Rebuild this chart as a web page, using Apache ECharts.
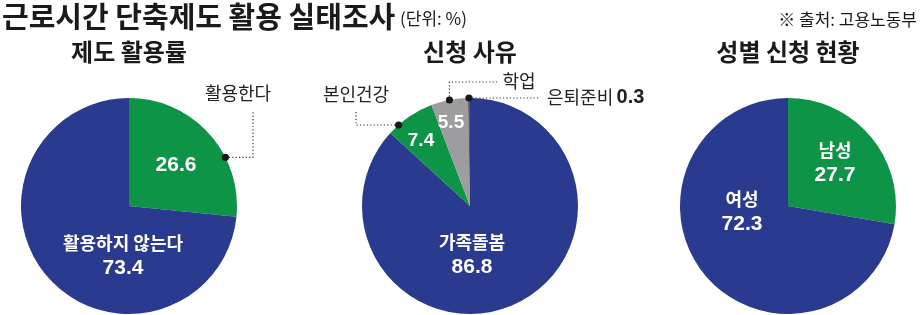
<!DOCTYPE html>
<html><head><meta charset="utf-8">
<script src="https://cdn.jsdelivr.net/npm/echarts@6/dist/echarts.min.js"></script>
<style>html,body{margin:0;padding:0;background:#fff}#c{width:921px;height:315px}</style>
</head><body><div id="c"></div>
<script>
// ---- data ----
const titleText = '근로시간 단축제도 활용 실태조사';
const unitText = '(단위: %)';
const sourceText = '※ 출처: 고용노동부';
const pieTitles = ['제도 활용률', '신청 사유', '성별 신청 현황'];

const usageNames = ['활용한다', '활용하지 않는다'];
const usageValues = [26.6, 73.4];
const reasonNames = ['가족돌봄', '본인건강', '학업', '은퇴준비'];
const reasonValues = [86.8, 7.4, 5.5, 0.3];
const genderNames = ['남성', '여성'];
const genderValues = [27.7, 72.3];

// ---- style / layout ----
const BLUE = '#293a8f', GREEN = '#0e9447', GRAY = '#9d9d9f', DARK = '#5a5a5c';
const KR = "'Noto Sans CJK KR', sans-serif";
const NUM = "'Liberation Sans', Arial, 'Noto Sans CJK KR', sans-serif";
const R = 108, CY = 206;

const pies = [
  { cx: 129, names: usageNames, values: usageValues, colors: [GREEN, BLUE],
    inner: [{x:176, y:165, k:'v'}, {x:123, y:256, k:'nv'}],
    outer: [{x:238, y:93, align:'center'}, null],
    leaders: [{idx:0, frac:0.66, route: d => [[253, d[1]], [253, 110]]}] },
  { cx: 470, names: reasonNames, values: reasonValues, colors: [BLUE, GREEN, GRAY, DARK],
    inner: [{x:472, y:255, k:'nv'}, {x:421, y:141, k:'s'}, {x:451, y:123, k:'s'}, null],
    outer: [null, {x:356, y:94, align:'center'}, {x:519, y:81, align:'center'}, {x:547, y:97, align:'left', withValue:true}],
    leaders: [
      {idx:1, frac:0.23, route: d => [[356, d[1]], [356, 110]]},
      {idx:2, frac:0.5, route: d => [[d[0], 82], [497, 82]]},
      {idx:3, frac:0.5, route: d => [[540, d[1]]]}
    ] },
  { cx: 788, names: genderNames, values: genderValues, colors: [GREEN, BLUE],
    inner: [{x:835, y:163, k:'nv'}, {x:742, y:212, k:'nv'}],
    outer: [null, null], leaders: [] }
];

const innerRich = {
  n: {fontSize: 18, fontWeight: 'bold', color: '#fff', fontFamily: KR, lineHeight: 24},
  v: {fontSize: 21, fontWeight: 'bold', color: '#fff', fontFamily: NUM, lineHeight: 26},
  s: {fontSize: 19, fontWeight: 'bold', color: '#fff', fontFamily: NUM, lineHeight: 22}
};
const outerRich = {
  n: {fontSize: 18, color: '#222', fontFamily: KR},
  b: {fontSize: 20, fontWeight: 'bold', color: '#222', fontFamily: NUM}
};

const series = [];
const graphic = [];

function edgePoint(p, idx, frac) {
  const total = p.values.reduce((a, b) => a + b, 0);
  let start = 0;
  for (let i = 0; i < idx; i++) start += p.values[i];
  const ang = (start + frac * p.values[idx]) / total * 2 * Math.PI;
  return [p.cx + R * Math.sin(ang), CY - R * Math.cos(ang)];
}

pies.forEach((p, pi) => {
  series.push({
    type: 'pie', center: [p.cx, CY], radius: [0, R], startAngle: 90, clockwise: true,
    avoidLabelOverlap: false, silent: true, animation: false,
    itemStyle: {borderWidth: 0},
    emphasis: {disabled: true},
    labelLine: {show: false},
    data: p.names.map((n, i) => {
      const c = p.inner[i];
      const v = p.values[i].toFixed(1);
      let fmt = '';
      if (c) fmt = c.k === 'v' ? '{v|' + v + '}' : c.k === 's' ? '{s|' + v + '}' : '{n|' + n + '}\n{v|' + v + '}';
      return { name: n, value: p.values[i], itemStyle: {color: p.colors[i]},
        label: { show: !!c, position: 'inside', formatter: fmt, rich: innerRich, align: 'center' } };
    }),
    labelLayout: prm => { const c = p.inner[prm.dataIndex]; return c ? {x: c.x, y: c.y, align: 'center', verticalAlign: 'middle'} : {}; }
  });
  if (p.outer.some(o => o)) {
    series.push({
      type: 'pie', center: [p.cx, CY], radius: [0, R], startAngle: 90, clockwise: true,
      avoidLabelOverlap: false, silent: true, animation: false, z: 3,
      itemStyle: {color: 'rgba(0,0,0,0)', borderWidth: 0},
      emphasis: {disabled: true},
      labelLine: {show: false},
      data: p.names.map((n, i) => {
        const o = p.outer[i];
        const fmt = o ? (o.withValue ? '{n|' + n + '} {b|' + p.values[i].toFixed(1) + '}' : '{n|' + n + '}') : '';
        return { name: n, value: p.values[i],
          label: { show: !!o, position: 'outside', formatter: fmt, rich: outerRich, align: o ? o.align : 'center' } };
      }),
      labelLayout: prm => { const o = p.outer[prm.dataIndex]; return o ? {x: o.x, y: o.y, align: o.align, verticalAlign: 'middle'} : {}; }
    });
  }
  p.leaders.forEach(l => {
    const d = edgePoint(p, l.idx, l.frac);
    graphic.push({ type: 'polyline', z: 10, silent: true,
      shape: {points: [d].concat(l.route(d))},
      style: {stroke: '#333', lineWidth: 1.2, lineDash: [1.2, 2.2], fill: null} });
    graphic.push({ type: 'circle', z: 11, silent: true, shape: {cx: d[0], cy: d[1], r: 3.6}, style: {fill: '#1a1a1a'} });
  });
  graphic.push({ type: 'text', x: p.cx, y: 52, silent: true,
    style: {text: pieTitles[pi], fill: '#1a1a1a', font: 'bold 24px ' + KR, align: 'center', verticalAlign: 'middle'} });
});

graphic.push({ type: 'text', x: 2, y: 17, silent: true,
  style: {text: titleText, fill: '#1a1a1a', font: 'bold 29px ' + KR, align: 'left', verticalAlign: 'middle'} });
graphic.push({ type: 'text', x: 400, y: 19, silent: true,
  style: {text: unitText, fill: '#1a1a1a', font: '17px ' + KR, align: 'left', verticalAlign: 'middle'} });
graphic.push({ type: 'text', x: 917, y: 20, silent: true,
  style: {text: sourceText, fill: '#1a1a1a', font: '17px ' + KR, align: 'right', verticalAlign: 'middle'} });

const chart = echarts.init(document.getElementById('c'), null, {renderer: 'canvas'});
chart.setOption({ animation: false, backgroundColor: '#fff', series: series, graphic: graphic });
</script>
</body></html>
